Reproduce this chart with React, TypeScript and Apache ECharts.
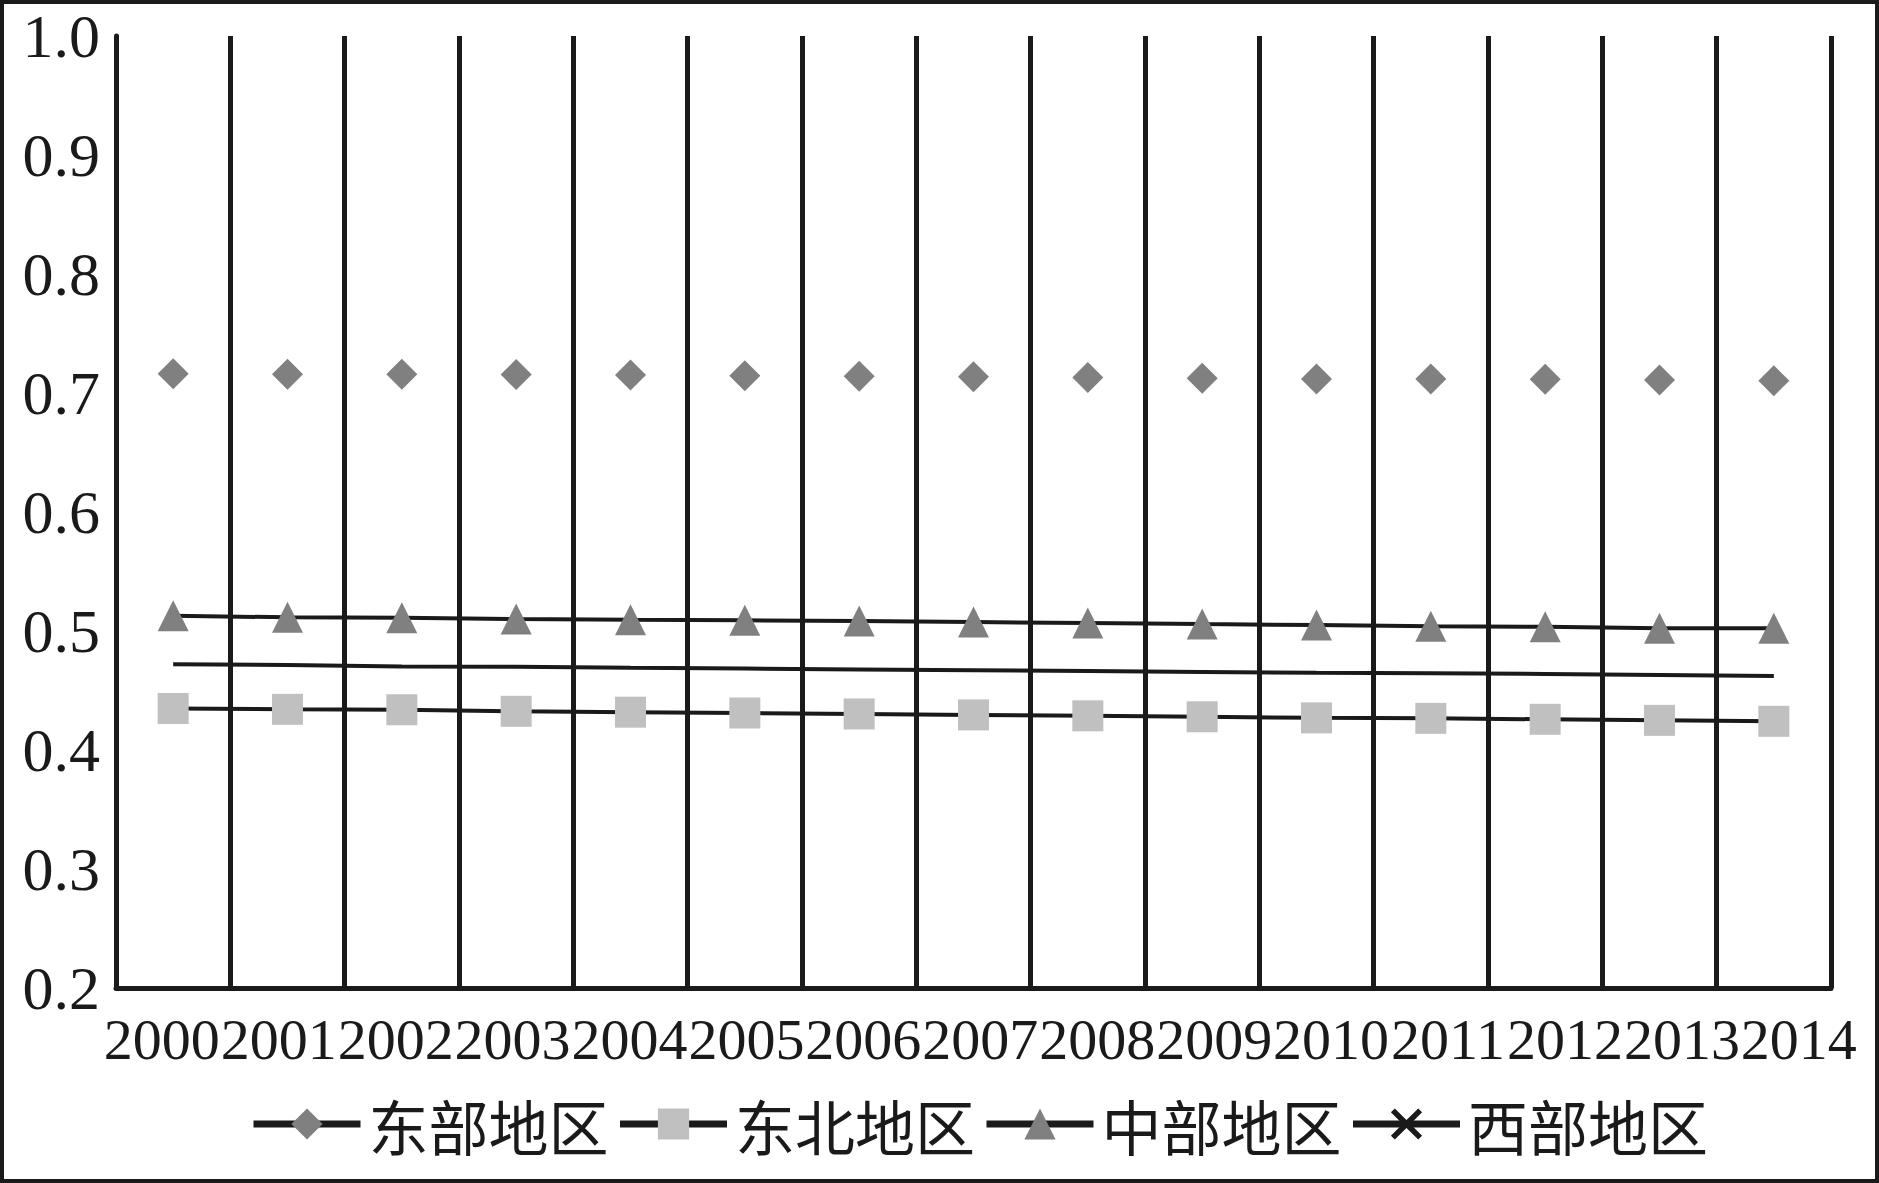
import React, { useEffect, useRef } from "react";
import * as echarts from "echarts";

const years = ["2000", "2001", "2002", "2003", "2004", "2005", "2006", "2007", "2008", "2009", "2010", "2011", "2012", "2013", "2014"];
const seriesNames = ["东部地区", "东北地区", "中部地区", "西部地区"];
const eastValues = [0.7162, 0.7157, 0.7157, 0.7155, 0.7152, 0.7146, 0.7141, 0.7136, 0.713, 0.7124, 0.7118, 0.7118, 0.7115, 0.7109, 0.7103];
const northeastValues = [0.4349, 0.4342, 0.4338, 0.4325, 0.4318, 0.4311, 0.4303, 0.4295, 0.4287, 0.4279, 0.427, 0.4266, 0.4258, 0.4249, 0.4241];
const centralValues = [0.5128, 0.5115, 0.5111, 0.5101, 0.5095, 0.509, 0.5083, 0.5075, 0.5067, 0.5058, 0.505, 0.504, 0.5035, 0.5024, 0.5024];
const westValues = [0.472, 0.4714, 0.4702, 0.47, 0.4692, 0.4685, 0.4677, 0.467, 0.4663, 0.4656, 0.4649, 0.4644, 0.4639, 0.463, 0.4622];
const yTicks = { min: 0.2, max: 1.0, interval: 0.1 };

const INK = "#1a1a1a";
const DARK_GRAY = "#808080";
const LIGHT_GRAY = "#c0c0c0";
const X_PATH =
  "path://M2.5,0 L10,7.5 L17.5,0 L20,2.5 L12.5,10 L20,17.5 L17.5,20 L10,12.5 L2.5,20 L0,17.5 L7.5,10 L0,2.5 Z";
const SERIF = "'Liberation Serif', 'Times New Roman', serif";

// the year labels in the original are set solid, a little wider than a category,
// so each label drifts slightly from its category centre
function labelPadding(i: number): number[] {
  const shift = -11.4 + 2.6 * i;
  return shift >= 0 ? [0, 0, 0, 2 * shift] : [0, -2 * shift, 0, 0];
}

export default function App() {
  const ref = useRef<HTMLDivElement>(null);
  useEffect(() => {
    if (!ref.current) return;
    const chart = echarts.init(ref.current, null, { renderer: "svg" });
    chart.setOption({
      animation: false,
      backgroundColor: "#ffffff",
      grid: { left: 116, top: 36, right: 48, bottom: 195, containLabel: false },
      graphic: [
        {
          type: "rect",
          shape: { x: 2, y: 2, width: 1875, height: 1179 },
          style: { fill: "none", stroke: INK, lineWidth: 4 },
          silent: true,
        },
      ],
      legend: {
        left: 250,
        top: 1094,
        padding: 0,
        itemWidth: 107,
        itemHeight: 39,
        itemGap: 8,
        data: seriesNames.map((n) => ({ name: n })),
        lineStyle: { color: INK, width: 7, opacity: 1 },
        textStyle: {
          fontFamily: "'Noto Sans CJK SC', sans-serif",
          fontSize: 60,
          color: INK,
          padding: [0, 0, 0, 3],
        },
      },
      xAxis: {
        type: "category",
        data: years.map((y, i) => ({ value: y, textStyle: { padding: labelPadding(i) } })),
        boundaryGap: true,
        axisLine: { show: true, lineStyle: { color: INK, width: 5 } },
        axisTick: { show: false },
        axisLabel: {
          interval: 0,
          margin: 22,
          fontFamily: SERIF,
          fontSize: 58,
          color: INK,
        },
        splitLine: { show: true, interval: 0, lineStyle: { color: INK, width: 5 } },
      },
      yAxis: {
        type: "value",
        min: yTicks.min,
        max: yTicks.max,
        interval: yTicks.interval,
        axisLine: { show: true, lineStyle: { color: INK, width: 5 } },
        axisTick: { show: false },
        splitLine: { show: false },
        axisLabel: {
          margin: 16,
          fontFamily: SERIF,
          fontSize: 62,
          color: INK,
          formatter: (v: number) => v.toFixed(1),
        },
      },
      series: [
        {
          name: seriesNames[0],
          type: "line",
          data: eastValues,
          symbol: "diamond",
          symbolSize: 31,
          itemStyle: { color: DARK_GRAY },
          lineStyle: { color: INK, width: 0, opacity: 0 },
          z: 5,
        },
        {
          name: seriesNames[1],
          type: "line",
          data: northeastValues,
          symbol: "rect",
          symbolSize: 31,
          itemStyle: { color: LIGHT_GRAY },
          lineStyle: { color: INK, width: 4 },
          z: 4,
        },
        {
          name: seriesNames[2],
          type: "line",
          data: centralValues,
          symbol: "triangle",
          symbolSize: 31,
          itemStyle: { color: DARK_GRAY },
          lineStyle: { color: INK, width: 4 },
          z: 4,
        },
        {
          name: seriesNames[3],
          type: "line",
          data: westValues,
          symbol: X_PATH,
          symbolSize: 31,
          showSymbol: false,
          itemStyle: { color: INK },
          lineStyle: { color: INK, width: 4 },
          z: 3,
        },
      ],
    });
    return () => chart.dispose();
  }, []);
  return (
    <div
      ref={ref}
      style={{ position: "fixed", left: 0, top: 0, width: 1879, height: 1183, background: "#fff" }}
    />
  );
}
